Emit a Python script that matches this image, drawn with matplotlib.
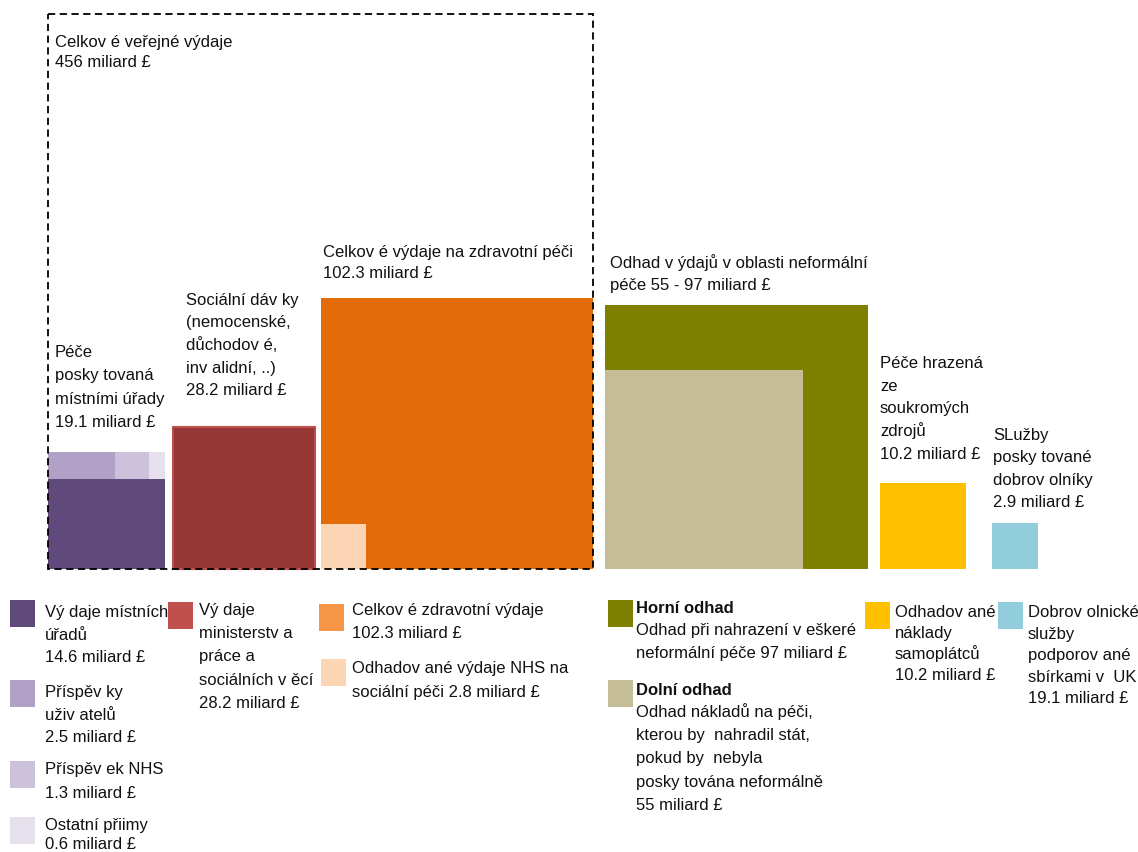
import matplotlib
matplotlib.use("Agg")
import matplotlib.pyplot as plt
from matplotlib.patches import Rectangle
import numpy as np

# values (miliard £)
public_total = 456
la_parts = [14.6, 2.5, 1.3, 0.6]        # local authority split
la_total = 19.1
benefits = 28.2
health = 102.3
nhs_social = 2.8
informal_high = 97
informal_low = 55
private = 10.2
volunteer = 2.9

# colours
C_LA = ['#604a7b', '#b2a1c7', '#ccc1da', '#e5e0ec']
C_BEN, C_BEN_EDGE, C_BEN_LEG = '#953735', '#c0504d', '#c0504d'
C_HEALTH, C_HEALTH_LEG, C_NHS = '#e36c09', '#f79646', '#fcd5b5'
C_HIGH, C_LOW = '#7f7f00', '#c4bd97'
C_PRIV, C_VOL = '#ffc000', '#92cddc'

plt.rcParams['font.family'] = ['Liberation Sans', 'DejaVu Sans']
FS = 12

fig = plt.figure(figsize=(11.38, 8.52), dpi=100)
ax = fig.add_axes([0, 0, 1, 1])
ax.set_xlim(0, 1138)
ax.set_ylim(852, 0)
ax.axis('off')

K = 26.8        # pixels per sqrt(miliard)
BASE = 569      # baseline of squares
side = lambda v: K * np.sqrt(v)

def square(x, v, color, edge=None):
    s = side(v)
    ax.add_patch(Rectangle((x, BASE - s), s, s, facecolor=color,
                           edgecolor=edge if edge else 'none', lw=1.5))
    return s

def label(x, y, txt, step=22.5, **kw):
    # one text per line so the line pitch is even
    for i, line in enumerate(txt.split('\n')):
        ax.text(x, y + i * step, line, fontsize=FS, va='baseline', ha='left',
                color='#111111', **kw)

# local authority block: dark bottom + strip of three on top
x = 48
s_la = side(la_total)
h_dark = s_la * la_parts[0] / sum(la_parts)
ax.add_patch(Rectangle((x, BASE - h_dark), s_la, h_dark, facecolor=C_LA[0], lw=0))
rest = la_parts[1:]
xx = x
for v, c in zip(rest, C_LA[1:]):
    w = s_la * v / sum(rest)
    ax.add_patch(Rectangle((xx, BASE - s_la), w, s_la - h_dark, facecolor=c, lw=0))
    xx += w
x_la = x
x += s_la + 8

# benefits
x += square(x, benefits, C_BEN, C_BEN_EDGE) + 6

# health + NHS social
s_h = square(x, health, C_HEALTH)
square(x, nhs_social, C_NHS)
x += s_h
x_box_r = x

# dashed public spending box
ax.add_patch(Rectangle((x_la, 14), x_box_r - x_la, BASE - 14, fill=False,
                       edgecolor='black', lw=1.3, linestyle=(0, (4, 2.5))))

x += 12
s_hi = square(x, informal_high, C_HIGH)
square(x, informal_low, C_LOW)
x += s_hi + 12
x_priv = x
square(x_priv, private, C_PRIV)
square(x_priv + 112, volunteer, C_VOL)

# labels above squares
label(55, 47, 'Celkov é veřejné výdaje\n456 miliard £', step=20)
label(55, 357, 'Péče\nposky tovaná\nmístními úřady\n19.1 miliard £', step=23.3)
label(186, 305, 'Sociální dáv ky\n(nemocenské,\ndůchodov é,\ninv alidní, ..)\n28.2 miliard £')
label(323, 257, 'Celkov é výdaje na zdravotní péči\n102.3 miliard £', step=21.5)
label(610, 268, 'Odhad v ýdajů v oblasti neformální\npéče 55 - 97 miliard £', step=22)
label(880, 368, 'Péče hrazená\nze\nsoukromých\nzdrojů\n10.2 miliard £', step=22.75)
label(993, 440, 'SLužby\nposky tované\ndobrov olníky\n2.9 miliard £', step=22.3)

# legend
def swatch(x, y, c):
    ax.add_patch(Rectangle((x, y), 25, 27, facecolor=c, lw=0))

swatch(10, 600, C_LA[0]); label(45, 617, 'Vý daje místních\núřadů\n14.6 miliard £')
swatch(10, 680, C_LA[1]); label(45, 697, 'Příspěv ky\nuživ atelů\n2.5 miliard £')
swatch(10, 761, C_LA[2]); label(45, 774, 'Příspěv ek NHS\n1.3 miliard £', step=23.5)
swatch(10, 817, C_LA[3]); label(45, 830, 'Ostatní přiimy\n0.6 miliard £', step=19)

swatch(168, 602, C_BEN_LEG)
label(199, 615, 'Vý daje\nministerstv a\npráce a\nsociálních v ěcí\n28.2 miliard £', step=23.2)

swatch(319, 604, C_HEALTH_LEG); label(352, 615, 'Celkov é zdravotní výdaje\n102.3 miliard £', step=23)
swatch(321, 659, C_NHS); label(352, 673, 'Odhadov ané výdaje NHS na\nsociální péči 2.8 miliard £', step=24)

swatch(608, 600, C_HIGH)
label(636, 613, 'Horní odhad', fontweight='bold')
label(636, 635, 'Odhad při nahrazení v eškeré\nneformální péče 97 miliard £', step=23)
swatch(608, 680, C_LOW)
label(636, 695, 'Dolní odhad', fontweight='bold')
label(636, 717, 'Odhad nákladů na péči,\nkterou by  nahradil stát,\npokud by  nebyla\nposky tována neformálně\n55 miliard £', step=23.25)

swatch(865, 602, C_PRIV); label(895, 617, 'Odhadov ané\nnáklady\nsamoplátců\n10.2 miliard £', step=21)
swatch(998, 602, C_VOL); label(1028, 617, 'Dobrov olnické\nslužby\npodporov ané\nsbírkami v  UK\n19.1 miliard £', step=21.5)

fig.savefig('out.png', dpi=100, facecolor='white')
